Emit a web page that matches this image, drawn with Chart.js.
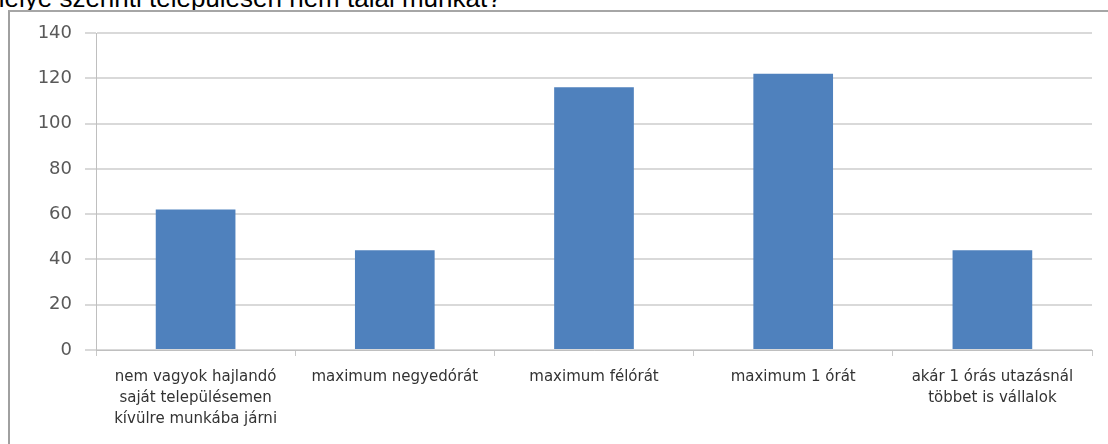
<!DOCTYPE html>
<html>
<head>
<meta charset="utf-8">
<script src="https://cdn.jsdelivr.net/npm/chart.js@4"></script>
<style>
  html, body { margin: 0; padding: 0; background: #fff; overflow: hidden; }
  body { width: 1108px; height: 444px; position: relative; }
  #title {
    position: absolute; left: -10px; top: -15px;
    font: 26px/26px "Liberation Sans", Arial, sans-serif; color: #000;
    white-space: nowrap;
  }
  #frame {
    position: absolute; left: 8px; top: 10px; width: 1200px; height: 500px;
    border-left: 2px solid #a0a0a0; border-top: 2px solid #a6a6a6;
  }
  #wrap { position: absolute; left: 0; top: 0; width: 1108px; height: 444px; }
</style>
</head>
<body>
<div id="title">helye szerinti településen nem talál munkát?</div>
<div id="frame"></div>
<div id="wrap"><canvas id="chart"></canvas></div>
<script>
const categories = [
    ['nem vagyok hajlandó', 'saját településemen', 'kívülre munkába járni'],
    'maximum negyedórát',
    'maximum félórát',
    'maximum 1 órát',
    ['akár 1 órás utazásnál', 'többet is vállalok']
];
const answers = [62, 44, 116, 122, 44];
const yTicks = [0, 20, 40, 60, 80, 100, 120, 140];

const ctx = document.getElementById('chart').getContext('2d');
const chart = new Chart(ctx, {
    type: 'bar',
    data: {
        labels: categories,
        datasets: [{
            data: answers,
            backgroundColor: '#4f81bd',
            borderWidth: 0,
            barPercentage: 0.4,
            categoryPercentage: 1
        }]
    },
    options: {
        responsive: true,
        maintainAspectRatio: false,
        animation: false,
        layout: { padding: { left: 34, right: 16, top: 33, bottom: 0 } },
        plugins: { legend: { display: false }, tooltip: { enabled: false } },
        scales: {
            x: {
                grid: { drawOnChartArea: false, tickLength: 6, color: '#c8c8c8' },
                border: { color: '#bfbfbf', width: 1 },
                ticks: {
                    padding: 11,
                    maxRotation: 0,
                    autoSkip: false,
                    color: '#333',
                    font: { family: 'DejaVu Sans', size: 15, lineHeight: 1.4 }
                },
                afterFit: scale => { scale.height = 94; }
            },
            y: {
                min: 0,
                max: 140,
                afterBuildTicks: scale => { scale.ticks = yTicks.map(v => ({ value: v })); },
                grid: { color: '#d9d9d9', lineWidth: 2, tickLength: 11 },
                border: { color: '#bfbfbf', width: 1 },
                ticks: {
                    padding: 13,
                    color: '#595959',
                    font: { family: 'DejaVu Sans', size: 18 }
                },
                afterFit: scale => { scale.width = 62; }
            }
        }
    }
});
</script>
</body>
</html>
